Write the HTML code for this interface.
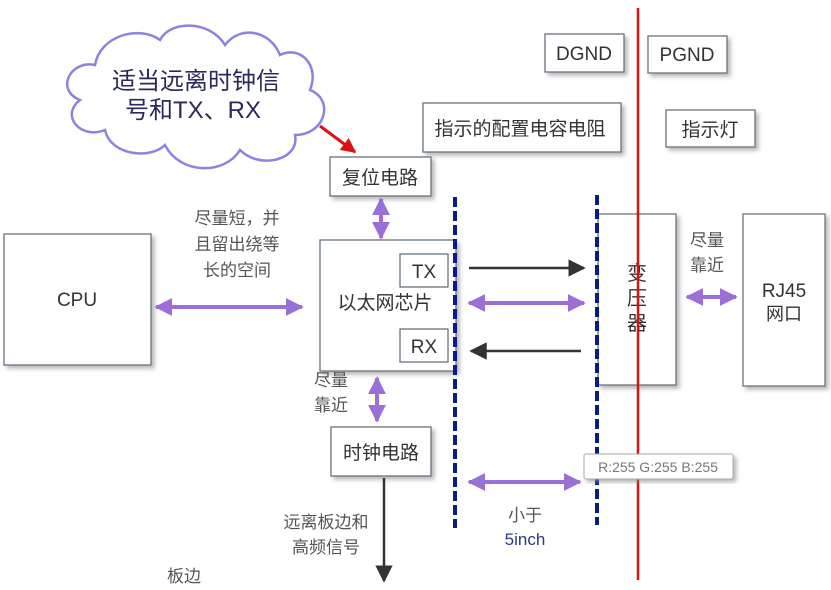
<!DOCTYPE html>
<html><head><meta charset="utf-8"><style>
html,body{margin:0;padding:0;background:#fff;}
svg{display:block;}
text{font-family:"Liberation Sans","Noto Sans CJK SC",sans-serif;}
</style></head><body>
<svg width="831" height="590" viewBox="0 0 831 590" xmlns="http://www.w3.org/2000/svg">
<defs>
<filter id="sh" x="-10%" y="-10%" width="130%" height="130%">
<feDropShadow dx="3" dy="3" stdDeviation="2" flood-color="#888" flood-opacity="0.6"/>
</filter>
<marker id="pa" viewBox="0 0 10 10" refX="9" refY="5" markerWidth="4.5" markerHeight="4.5" orient="auto-start-reverse"><path d="M0,0 L10,5 L0,10 z" fill="#9a6fd6"/></marker>
<marker id="ba" viewBox="0 0 10 10" refX="9" refY="5" markerWidth="7" markerHeight="7" orient="auto"><path d="M0,0 L10,5 L0,10 z" fill="#333"/></marker>
<marker id="ra" viewBox="0 0 10 10" refX="9" refY="5" markerWidth="5" markerHeight="5" orient="auto"><path d="M0,0 L10,5 L0,10 z" fill="#d11"/></marker>
</defs>

<!-- cloud -->
<path d="M95,65 C70,60 55,90 80,100 C60,115 80,140 105,130 C110,155 150,160 165,145 C180,175 225,175 240,150 C260,170 300,160 295,135 C325,135 335,100 310,90 C320,65 300,45 280,55 C270,30 240,25 225,45 C210,20 170,20 160,40 C140,25 100,35 95,65 Z" fill="#fff" stroke="#8a84e0" stroke-width="2.5"/>
<text x="196" y="89" font-size="24" fill="#2a2a5a" text-anchor="middle">适当远离时钟信</text>
<text x="193" y="118" font-size="24" fill="#2a2a5a" text-anchor="middle">号和TX、RX</text>
<line x1="320" y1="126" x2="355" y2="152" stroke="#d11" stroke-width="3" marker-end="url(#ra)"/>

<g fill="#fff" stroke="#6b7280" stroke-width="1.3" filter="url(#sh)">
<rect x="4" y="234" width="147" height="131"/>
<rect x="320" y="240" width="136" height="131"/>
<rect x="330" y="157" width="101" height="39"/>
<rect x="331" y="427" width="100" height="49"/>
<rect x="598" y="214" width="78" height="171"/>
<rect x="743" y="214" width="82" height="172"/>
<rect x="545" y="34" width="79" height="38"/>
<rect x="648" y="36" width="79" height="37"/>
<rect x="423" y="103" width="198" height="49"/>
<rect x="666" y="110" width="89" height="37"/>
<rect x="400" y="254" width="48" height="33"/>
<rect x="400" y="329" width="48" height="33"/>
</g>

<g font-size="19" fill="#333" text-anchor="middle">
<text x="77" y="306">CPU</text>
<text x="385" y="309">以太网芯片</text>
<text x="424" y="278">TX</text>
<text x="424" y="353">RX</text>
<text x="380" y="184">复位电路</text>
<text x="381" y="459">时钟电路</text>
<text x="584" y="60">DGND</text>
<text x="687" y="61">PGND</text>
<text x="520" y="135">指示的配置电容电阻</text>
<text x="710" y="136">指示灯</text>
<text x="784" y="297">RJ45</text>
<text x="784" y="320" font-size="18">网口</text>
<text x="637" y="280" font-size="20">变</text>
<text x="637" y="305" font-size="20">压</text>
<text x="637" y="330" font-size="20">器</text>
</g>
<g font-size="17" fill="#555" text-anchor="middle">
<text x="237" y="224">尽量短，并</text>
<text x="237" y="250">且留出绕等</text>
<text x="237" y="276">长的空间</text>
<text x="707" y="246">尽量</text>
<text x="707" y="271">靠近</text>
<text x="331" y="386">尽量</text>
<text x="331" y="411">靠近</text>
<text x="326" y="528">远离板边和</text>
<text x="326" y="553">高频信号</text>
<text x="184" y="582">板边</text>
<text x="525" y="521">小于</text>
</g>
<text x="525" y="545" font-size="17" fill="#2a3a8a" text-anchor="middle">5inch</text>

<!-- dashed lines -->
<line x1="455" y1="197" x2="455" y2="528" stroke="#0a1a8a" stroke-width="4" stroke-dasharray="10,4"/>
<line x1="597" y1="195" x2="597" y2="525" stroke="#0a1a8a" stroke-width="4" stroke-dasharray="10,4"/>

<!-- red line -->
<line x1="638" y1="8" x2="638" y2="580" stroke="#dd1111" stroke-width="2.5"/>

<!-- arrows -->
<g stroke="#9a6fd6" stroke-width="4" fill="none">
<line x1="156" y1="307" x2="302" y2="307" marker-start="url(#pa)" marker-end="url(#pa)"/>
<line x1="381" y1="199" x2="381" y2="238" marker-start="url(#pa)" marker-end="url(#pa)"/>
<line x1="377" y1="378" x2="377" y2="421" marker-start="url(#pa)" marker-end="url(#pa)"/>
<line x1="469" y1="303" x2="584" y2="303" marker-start="url(#pa)" marker-end="url(#pa)"/>
<line x1="469" y1="482" x2="580" y2="482" marker-start="url(#pa)" marker-end="url(#pa)"/>
<line x1="687" y1="297" x2="736" y2="297" marker-start="url(#pa)" marker-end="url(#pa)"/>
</g>
<g stroke="#333" stroke-width="2.5">
<line x1="469" y1="268" x2="584" y2="268" marker-end="url(#ba)"/>
<line x1="581" y1="351" x2="471" y2="351" marker-end="url(#ba)"/>
<line x1="384" y1="478" x2="384" y2="581" marker-end="url(#ba)"/>
</g>

<!-- tooltip -->
<rect x="584" y="454" width="149" height="25" rx="2" fill="#fff" stroke="#aaa" filter="url(#sh)"/>
<text x="658" y="472" font-size="14" fill="#777" text-anchor="middle">R:255 G:255 B:255</text>
</svg>
</body></html>
